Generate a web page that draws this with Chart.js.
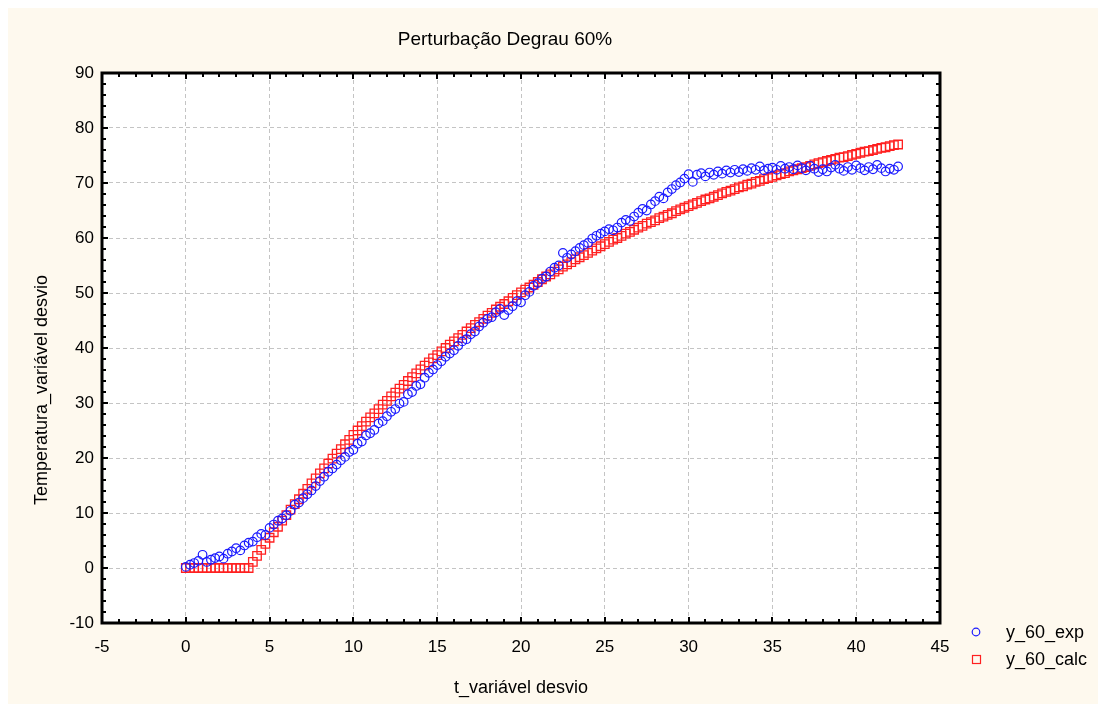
<!DOCTYPE html>
<html>
<head>
<meta charset="utf-8">
<title>Perturbação Degrau 60%</title>
<script src="https://cdn.jsdelivr.net/npm/chart.js@4/dist/chart.umd.min.js"></script>
<style>
    html, body { overflow: hidden; }
    body { margin: 0; background: #ffffff; }
    canvas { display: block; position: absolute; left: 8px; top: 8px; }
</style>
</head>
<body>
<canvas id="degrau" width="1090" height="696"></canvas>
<script>
// tempo (variável desvio), amostras a cada 0.25
const tValues = [
    0, 0.25, 0.5, 0.75, 1, 1.25, 1.5, 1.75, 2, 2.25, 2.5, 2.75,
    3, 3.25, 3.5, 3.75, 4, 4.25, 4.5, 4.75, 5, 5.25, 5.5, 5.75,
    6, 6.25, 6.5, 6.75, 7, 7.25, 7.5, 7.75, 8, 8.25, 8.5, 8.75,
    9, 9.25, 9.5, 9.75, 10, 10.25, 10.5, 10.75, 11, 11.25, 11.5, 11.75,
    12, 12.25, 12.5, 12.75, 13, 13.25, 13.5, 13.75, 14, 14.25, 14.5, 14.75,
    15, 15.25, 15.5, 15.75, 16, 16.25, 16.5, 16.75, 17, 17.25, 17.5, 17.75,
    18, 18.25, 18.5, 18.75, 19, 19.25, 19.5, 19.75, 20, 20.25, 20.5, 20.75,
    21, 21.25, 21.5, 21.75, 22, 22.25, 22.5, 22.75, 23, 23.25, 23.5, 23.75,
    24, 24.25, 24.5, 24.75, 25, 25.25, 25.5, 25.75, 26, 26.25, 26.5, 26.75,
    27, 27.25, 27.5, 27.75, 28, 28.25, 28.5, 28.75, 29, 29.25, 29.5, 29.75,
    30, 30.25, 30.5, 30.75, 31, 31.25, 31.5, 31.75, 32, 32.25, 32.5, 32.75,
    33, 33.25, 33.5, 33.75, 34, 34.25, 34.5, 34.75, 35, 35.25, 35.5, 35.75,
    36, 36.25, 36.5, 36.75, 37, 37.25, 37.5, 37.75, 38, 38.25, 38.5, 38.75,
    39, 39.25, 39.5, 39.75, 40, 40.25, 40.5, 40.75, 41, 41.25, 41.5, 41.75,
    42, 42.25, 42.5
];

// resposta experimental
const yExp = [
    0.2, 0.6, 0.9, 1.3, 2.4, 1.1, 1.5, 1.8, 2.1, 1.7, 2.6, 3.0,
    3.6, 3.2, 4.1, 4.6, 4.8, 5.6, 6.2, 6.0, 7.3, 7.9, 8.6, 9.0,
    9.6, 10.4, 11.5, 11.9, 12.7, 13.4, 14.1, 14.9, 15.8, 16.6, 17.5, 18.1,
    18.8, 19.6, 20.2, 21.1, 21.5, 22.6, 23.0, 24.1, 24.5, 25.1, 26.3, 26.7,
    27.6, 28.4, 28.9, 29.9, 30.2, 31.6, 32.0, 33.1, 33.4, 34.6, 35.5, 36.1,
    36.9, 37.6, 38.4, 39.0, 39.6, 40.4, 41.2, 41.6, 42.5, 43.0, 43.9, 44.6,
    45.3, 45.6, 46.5, 47.1, 46.0, 46.9, 47.6, 48.5, 48.3, 49.6, 50.2, 51.3,
    51.8, 52.6, 53.0, 53.9, 54.6, 55.0, 57.3, 56.4, 57.0, 57.6, 58.2, 58.7,
    59.1, 59.9, 60.4, 60.8, 61.2, 61.6, 61.4, 61.9, 62.8, 63.3, 63.1, 63.9,
    64.6, 65.3, 65.0, 66.1, 66.7, 67.5, 67.2, 68.3, 68.9, 69.6, 70.1, 70.8,
    71.6, 70.2, 71.5, 71.8, 71.2, 71.9, 71.5, 72.1, 71.7, 72.3, 71.9, 72.4,
    72.0, 72.5, 72.2, 72.7, 72.4, 73.0, 72.3, 72.6, 72.8, 72.4, 73.1, 72.6,
    72.9, 72.5, 73.2, 72.7, 72.3, 73.1, 72.6, 72.0, 72.5, 72.1, 72.8, 73.3,
    72.6, 72.2, 72.9, 72.4, 73.2, 72.7, 72.3, 72.9, 72.5, 73.3, 72.7, 72.1,
    72.6, 72.4, 73.0
];

// resposta calculada pelo modelo
const yCalc = [
    0, 0, 0, 0, 0, 0, 0, 0, 0, 0, 0, 0,
    0, 0, 0, 0, 1.1, 2.2, 3.3, 4.4, 5.5, 6.5, 7.5, 8.6,
    9.6, 10.6, 11.6, 12.5, 13.5, 14.4, 15.4, 16.3, 17.2, 18.1, 19.0, 19.9,
    20.8, 21.6, 22.5, 23.3, 24.2, 25.0, 25.8, 26.6, 27.4, 28.1, 28.9, 29.7,
    30.4, 31.2, 31.9, 32.6, 33.3, 34.0, 34.7, 35.4, 36.1, 36.8, 37.4, 38.1,
    38.7, 39.4, 40.0, 40.6, 41.2, 41.8, 42.4, 43.0, 43.6, 44.2, 44.7, 45.3,
    45.9, 46.4, 47.0, 47.5, 48.0, 48.5, 49.1, 49.6, 50.1, 50.6, 51.0, 51.5,
    52.0, 52.5, 53.0, 53.4, 53.9, 54.3, 54.8, 55.2, 55.6, 56.1, 56.5, 56.9,
    57.3, 57.7, 58.1, 58.5, 58.9, 59.3, 59.7, 60.0, 60.4, 60.8, 61.1, 61.5,
    61.9, 62.2, 62.6, 62.9, 63.2, 63.6, 63.9, 64.2, 64.5, 64.9, 65.2, 65.5,
    65.8, 66.1, 66.4, 66.7, 67.0, 67.2, 67.5, 67.8, 68.1, 68.4, 68.6, 68.9,
    69.2, 69.4, 69.7, 69.9, 70.2, 70.4, 70.7, 70.9, 71.1, 71.4, 71.6, 71.8,
    72.1, 72.3, 72.5, 72.7, 72.9, 73.1, 73.4, 73.6, 73.8, 74.0, 74.2, 74.4,
    74.6, 74.7, 74.9, 75.1, 75.3, 75.5, 75.7, 75.8, 76.0, 76.2, 76.4, 76.5,
    76.7, 76.9, 77.0
];

const seriesNames = ['y_60_exp', 'y_60_calc'];
const chartTitle = 'Perturbação Degrau 60%';
const xTitle = 't_variável desvio';
const yTitle = 'Temperatura_variável desvio';

const FONT = '"Liberation Sans", Arial, sans-serif';
const CREAM = '#fef9ee';
const BLUE = '#1a1aff';
const RED = '#ff2020';

function toPoints(ys) {
    return tValues.map((t, i) => ({ x: t, y: ys[i] }));
}

// background, frame with inward ticks, titles and legend
const statFrame = {
    id: 'statFrame',
    beforeDraw(chart) {
        const { ctx, chartArea: a } = chart;
        ctx.save();
        ctx.fillStyle = CREAM;
        ctx.fillRect(0, 0, chart.width, chart.height);
        ctx.fillStyle = '#ffffff';
        ctx.fillRect(a.left, a.top, a.right - a.left, a.bottom - a.top);
        ctx.restore();
    },
    afterDraw(chart) {
        const { ctx, chartArea: a } = chart;
        const xs = chart.scales.x;
        const ys = chart.scales.y;
        ctx.save();
        ctx.strokeStyle = '#000000';

        // minor + major ticks, pointing into the plot on all four sides
        ctx.lineWidth = 2;
        ctx.beginPath();
        for (let v = -5; v <= 45; v += 1) {
            const px = Math.round(xs.getPixelForValue(v));
            const len = v % 5 === 0 ? 6 : 4;
            ctx.moveTo(px, a.bottom); ctx.lineTo(px, a.bottom - len);
            ctx.moveTo(px, a.top); ctx.lineTo(px, a.top + len);
        }
        for (let v = -10; v <= 90; v += 2) {
            const py = Math.round(ys.getPixelForValue(v));
            const len = v % 10 === 0 ? 6 : 4;
            ctx.moveTo(a.left, py); ctx.lineTo(a.left + len, py);
            ctx.moveTo(a.right, py); ctx.lineTo(a.right - len, py);
        }
        ctx.stroke();

        ctx.lineWidth = 3;
        ctx.strokeRect(a.left, a.top, a.right - a.left, a.bottom - a.top);

        // titles
        ctx.fillStyle = '#000000';
        ctx.textAlign = 'center';
        ctx.textBaseline = 'middle';
        ctx.font = '19px ' + FONT;
        ctx.fillText(chartTitle, 497, 32);
        ctx.font = '18px ' + FONT;
        ctx.fillText(xTitle, (a.left + a.right) / 2, 680);
        ctx.save();
        ctx.translate(34, 382);
        ctx.rotate(-Math.PI / 2);
        ctx.fillText(yTitle, 0, 0);
        ctx.restore();

        // legend
        ctx.lineWidth = 1.2;
        ctx.strokeStyle = BLUE;
        ctx.beginPath();
        ctx.arc(968, 624, 3.8, 0, Math.PI * 2);
        ctx.stroke();
        ctx.strokeStyle = RED;
        ctx.strokeRect(964.5, 647.5, 8, 8);
        ctx.textAlign = 'left';
        ctx.font = '18px ' + FONT;
        ctx.fillText(seriesNames[0], 998, 625);
        ctx.fillText(seriesNames[1], 998, 652);
        ctx.restore();
    }
};

const ctx = document.getElementById('degrau').getContext('2d');
new Chart(ctx, {
    type: 'scatter',
    data: {
        datasets: [
            {
                label: seriesNames[0],
                data: toPoints(yExp),
                pointStyle: 'circle',
                pointRadius: 4.3,
                borderColor: BLUE,
                backgroundColor: 'rgba(0,0,0,0)',
                borderWidth: 1.2
            },
            {
                label: seriesNames[1],
                data: toPoints(yCalc),
                pointStyle: 'rect',
                pointRadius: 6,
                borderColor: RED,
                backgroundColor: 'rgba(0,0,0,0)',
                borderWidth: 1.3
            }
        ]
    },
    options: {
        responsive: false,
        animation: false,
        events: [],
        layout: {
            padding: { left: 0, top: 65, right: 158, bottom: 0 }
        },
        scales: {
            x: {
                type: 'linear',
                min: -5,
                max: 45,
                afterFit(scale) { scale.height = 81; },
                ticks: {
                    stepSize: 5,
                    padding: 14,
                    color: '#000000',
                    font: { family: FONT, size: 17 }
                },
                grid: {
                    color: '#c4c4c4',
                    lineWidth: 1,
                    drawTicks: false
                },
                border: { display: false, dash: [4, 3] }
            },
            y: {
                type: 'linear',
                min: -10,
                max: 90,
                afterFit(scale) { scale.width = 94; },
                ticks: {
                    stepSize: 10,
                    padding: 8,
                    color: '#000000',
                    font: { family: FONT, size: 17 }
                },
                grid: {
                    color: '#c4c4c4',
                    lineWidth: 1,
                    drawTicks: false
                },
                border: { display: false, dash: [4, 3] }
            }
        },
        plugins: {
            legend: { display: false },
            title: { display: false },
            tooltip: { enabled: false }
        }
    },
    plugins: [statFrame]
});
</script>
</body>
</html>
